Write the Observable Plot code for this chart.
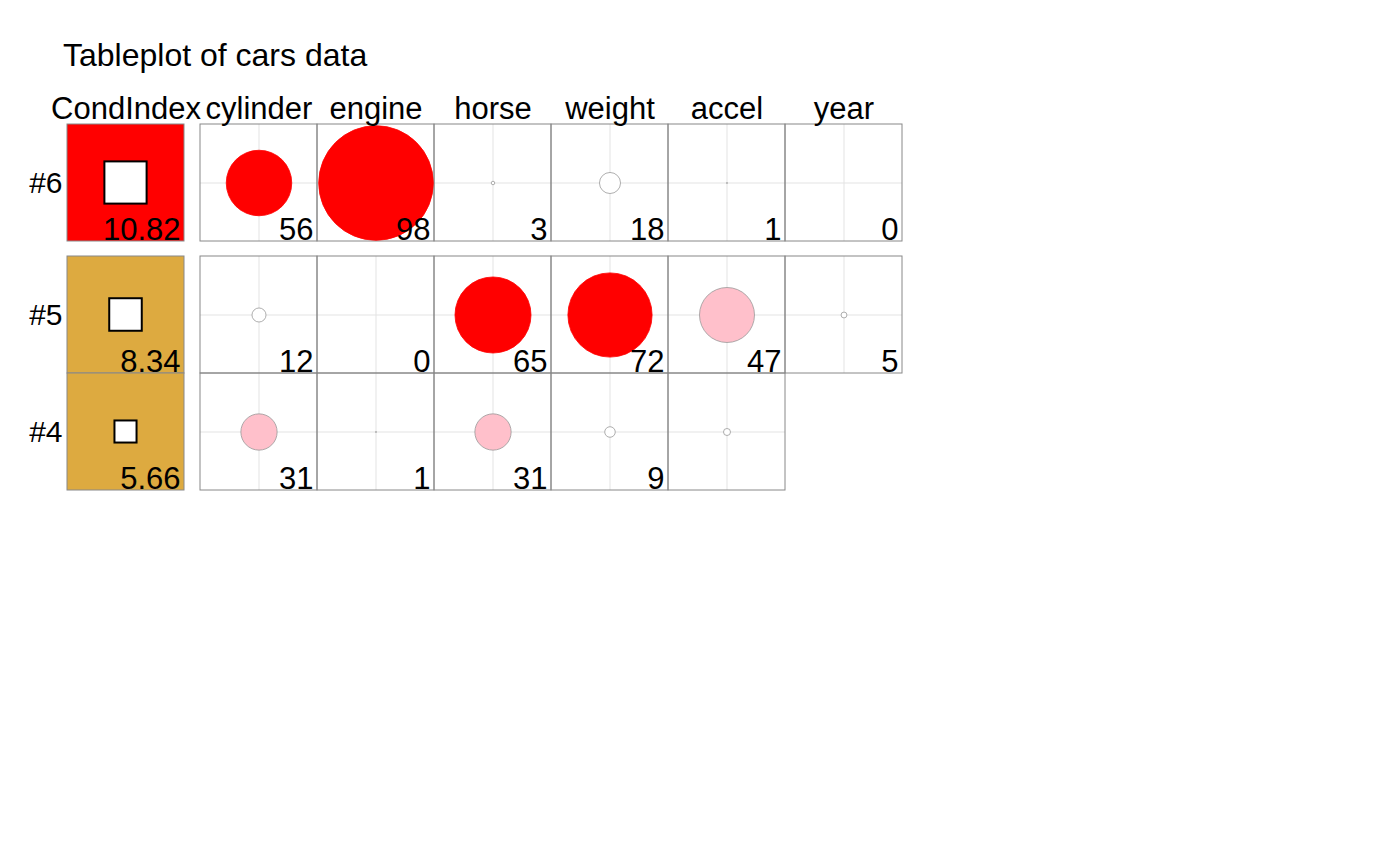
<!DOCTYPE html>
<html>
<head>
<meta charset="utf-8">
<script src="https://cdn.jsdelivr.net/npm/d3@7"></script>
<script src="https://cdn.jsdelivr.net/npm/@observablehq/plot@0.6"></script>
<style>
  html, body { margin: 0; padding: 0; background: #fff; }
  #wrap { position: relative; width: 1400px; height: 866px; }
  #title { position: absolute; left: 63px; top: 39px; font: 32px "Liberation Sans", Arial, sans-serif; line-height: 1; color: #000; white-space: nowrap; }
  svg { font-family: "Liberation Sans", Arial, sans-serif; }
</style>
</head>
<body>
<div id="wrap">
  <div id="title">Tableplot of cars data</div>
  <div id="chart"></div>
</div>
<script>
// ---- data ----
const rowLabels = ["#6", "#5", "#4"];
const condIndex = [10.82, 8.34, 5.66];
const condLabels = ["10.82", "8.34", "5.66"];
const condHeader = "CondIndex";
const varNames = ["cylinder", "engine", "horse", "weight", "accel", "year"];
// variance proportions (x100) per row; null = cell not drawn
const propsRow6 = [56, 98, 3, 18, 1, 0];
const propsRow5 = [12, 0, 65, 72, 47, 5];
const propsRow4 = [31, 1, 31, 9, 6, null];
const labelsRow6 = ["56", "98", "3", "18", "1", "0"];
const labelsRow5 = ["12", "0", "65", "72", "47", "5"];
const labelsRow4 = ["31", "1", "31", "9", "", ""];

// ---- layout helpers (cell units) ----
const gx = 16 / 117;   // gap after first column
const gy = 15 / 117;   // gap after first row
const colStart = j => j === 0 ? 0 : j + gx;      // j = 0 CondIndex, 1..6 vars
const rowStart = i => i === 0 ? 0 : i + gy;

const props = [propsRow6, propsRow5, propsRow4];
const labels = [labelsRow6, labelsRow5, labelsRow4];

const condCells = condIndex.map((v, i) => ({
  row: rowLabels[i], v, label: condLabels[i],
  x1: colStart(0), x2: colStart(0) + 1, y1: rowStart(i), y2: rowStart(i) + 1,
  cx: colStart(0) + 0.5, cy: rowStart(i) + 0.5,
  fill: v >= 10 ? "red" : "#DDAA40"
}));

const cells = [];
props.forEach((arr, i) => arr.forEach((v, k) => {
  if (v === null) return;
  const j = k + 1;
  cells.push({
    row: rowLabels[i], var: varNames[k], v, label: labels[i][k],
    x1: colStart(j), x2: colStart(j) + 1, y1: rowStart(i), y2: rowStart(i) + 1,
    cx: colStart(j) + 0.5, cy: rowStart(i) + 0.5,
    fill: v >= 50 ? "red" : v >= 20 ? "pink" : "white",
    stroke: v >= 50 ? "red" : "#999"
  });
}));

const headers = [condHeader, ...varNames].map((name, j) => ({name, cx: colStart(j) + 0.5}));
const rowTitles = rowLabels.map((name, i) => ({name, cy: rowStart(i) + 0.5}));

const side = v => v / 30; // square side in cell units

const chart = Plot.plot({
  width: 1400,
  height: 866,
  margin: 0,
  style: {background: "transparent", fontFamily: "Liberation Sans, Arial, sans-serif"},
  x: {type: "linear", domain: [0, 7 + gx], range: [67, 902], axis: null},
  y: {type: "linear", domain: [0, 3 + gy], range: [124, 490], axis: null},
  r: {type: "linear", domain: [0, 100], range: [0, 58.5]},
  marks: [
    // CondIndex cells
    Plot.rect(condCells, {x1: "x1", x2: "x2", y1: "y1", y2: "y2", fill: "fill", stroke: "#888", strokeWidth: 1}),
    Plot.rect(condCells, {
      x1: d => d.cx - side(d.v) / 2, x2: d => d.cx + side(d.v) / 2,
      y1: d => d.cy - side(d.v) / 2, y2: d => d.cy + side(d.v) / 2,
      fill: "white", stroke: "black", strokeWidth: 2
    }),
    Plot.text(condCells, {x: "x2", y: "y2", text: "label", textAnchor: "end", lineAnchor: "bottom", dx: -4, dy: -2, fontSize: 31, fill: "black"}),
    // variable cells
    Plot.rect(cells, {x1: "x1", x2: "x2", y1: "y1", y2: "y2", fill: "white"}),
    Plot.ruleX(cells, {x: "cx", y1: "y1", y2: "y2", stroke: "#e3e3e3", strokeWidth: 1}),
    Plot.ruleY(cells, {y: "cy", x1: "x1", x2: "x2", stroke: "#e3e3e3", strokeWidth: 1}),
    Plot.rect(cells, {x1: "x1", x2: "x2", y1: "y1", y2: "y2", fill: "none", stroke: "#888", strokeWidth: 1}),
    Plot.dot(cells, {x: "cx", y: "cy", r: "v", fill: "fill", stroke: "stroke", strokeWidth: 0.8}),
    Plot.text(cells, {x: "x2", y: "y2", text: "label", textAnchor: "end", lineAnchor: "bottom", dx: -4, dy: -2, fontSize: 31, fill: "black"}),
    // headers
    Plot.text(headers, {x: "cx", y: () => 0, text: "name", lineAnchor: "bottom", dy: -6, fontSize: 31, fill: "black"}),
    Plot.text(rowTitles, {x: () => 0, y: "cy", text: "name", textAnchor: "end", dx: -5, fontSize: 30, fill: "black"})
  ]
});
document.getElementById("chart").appendChild(chart);
</script>
</body>
</html>
